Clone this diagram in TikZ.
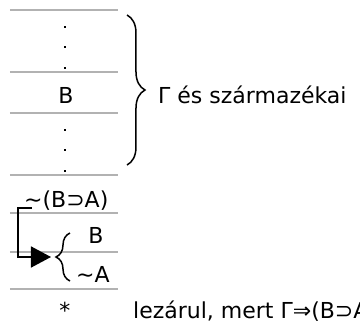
\documentclass[tikz,border=0pt]{standalone}
\usepackage{fontspec}
\setmainfont{DejaVu Sans}
\usetikzlibrary{decorations.pathreplacing,arrows.meta}
\begin{document}
\begin{tikzpicture}[x=1pt,y=-1pt,
  rule/.style={draw=black!30,line width=1.6pt},
  dotm/.style={fill=black,inner sep=0pt,minimum size=2.2pt,rectangle},
  txt/.style={inner sep=0pt,font=\fontsize{22}{26}\selectfont},
  bracestyle/.style={draw,line width=1.5pt,decorate},
  conn/.style={draw,line width=1.5pt}]
\useasboundingbox (0,0) rectangle (360,327);
% rules
\foreach \yy/\nm in {10/r1,72/r2,113/r3,175/r4,213/r5,252/r6,289/r7}{
  \coordinate (\nm a) at (10,\yy);
  \coordinate (\nm b) at (118,\yy);
  \draw[rule] (\nm a) -- (\nm b);
}
% dots
\foreach \yy [count=\i] in {27,47,68,130,150,171}{
  \node[dotm] (d\i) at (65,\yy) {};
}
\node[txt,anchor=base] (B1) at (66,103) {B};
% big brace
\coordinate (bt) at (127,15);
\coordinate (bb) at (127,165);
\draw[bracestyle,decoration={brace,amplitude=18pt}] (bt) -- (bb);
\node[txt,anchor=base west] (gamma) at (158,103) {Γ és származékai};
% lower part
\node[txt,anchor=base west] (neg) at (24,207) {\textasciitilde(B⊃A)};
\node[txt,anchor=base] (B2) at (96,243) {B};
\node[txt,anchor=base west] (nA) at (76,282) {\textasciitilde A};
\coordinate (sb) at (70,281);
\coordinate (st) at (70,233);
\draw[bracestyle,decoration={brace,amplitude=14pt}] (sb) -- (st);
\coordinate (cs) at (32,208);
\coordinate (ct) at (51,257);
\draw[conn,-{Triangle[length=20pt,width=21pt]}] (cs) -- ++(-14,0) |- (ct);
% bottom
\node[txt,anchor=base] (star) at (65,318) {*};
\node[txt,anchor=base west] (closed) at (133,318) {lezárul, mert Γ⇒(B⊃A)};
\end{tikzpicture}
\end{document}
